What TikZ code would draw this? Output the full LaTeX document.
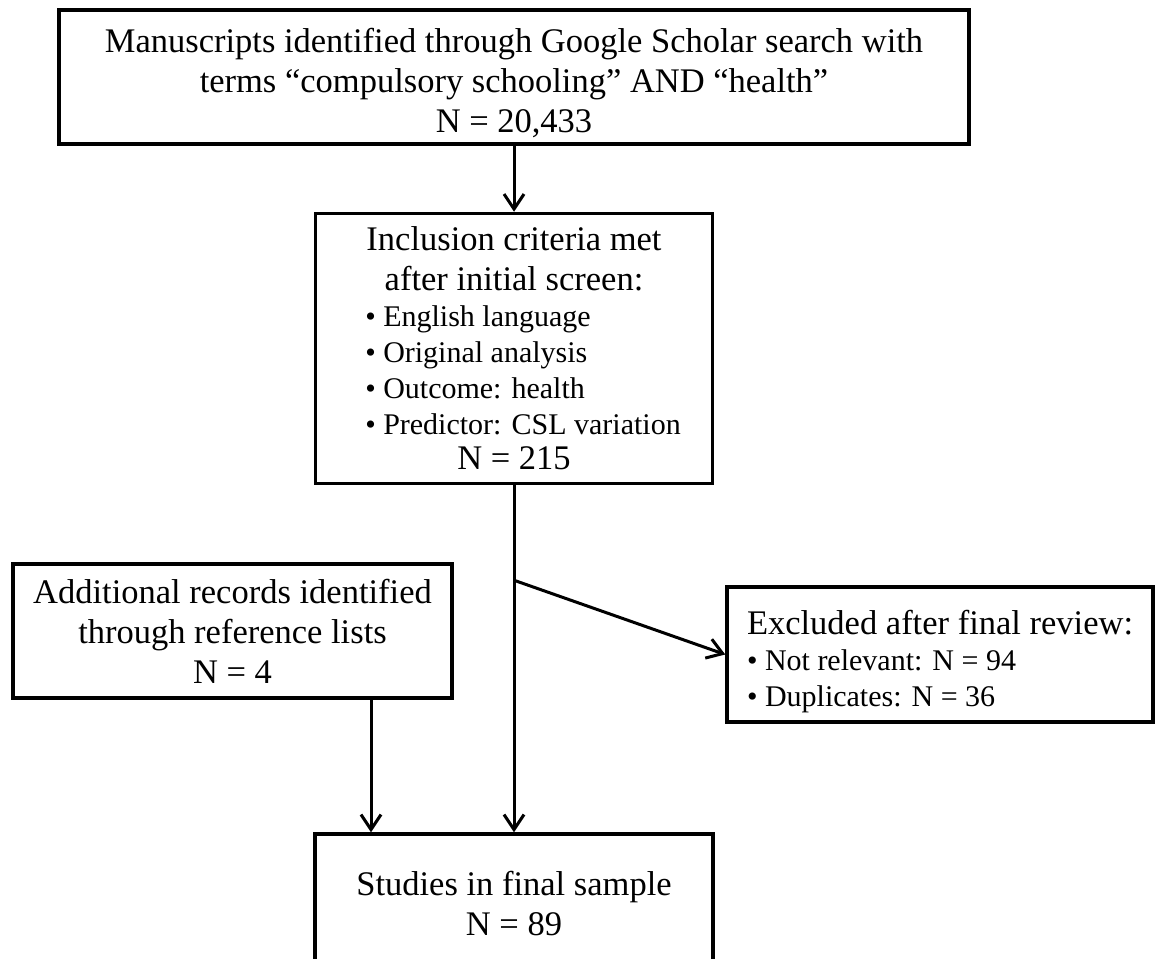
\documentclass[tikz,border=0pt]{standalone}
\usepackage{fontspec}
\setmainfont{Liberation Serif}
\usetikzlibrary{arrows.meta,positioning}

\newcommand{\bulletrows}[1]{{\fontsize{30}{36}\selectfont\begin{tabular}[t]{@{}l@{}}#1\end{tabular}}}

\begin{document}
\begin{tikzpicture}[x=1pt, y=-1pt, node distance=66pt]
  \tikzstyle{box}=[draw, line width=3.5pt, fill=white, align=center, inner sep=0pt, font=\fontsize{34.5}{40}\selectfont]
  \tikzstyle{arrow}=[-{Straight Barb[length=15pt, width=20pt]}, line width=3pt]

  \useasboundingbox (0,0) rectangle (1155,958);
  \clip (0,0) rectangle (1155,958);

  \node[box, minimum width=910pt, minimum height=134pt] (search) at (514,77) {\rule{0pt}{36pt}Manuscripts identified through Google Scholar search with\\terms “compulsory schooling” AND “health”\\N = 20,433};
  \node[box, minimum width=397pt, minimum height=270pt, below=66pt of search] (inclusion) {Inclusion criteria met\\after initial screen:\\[-4pt]\hspace*{18pt}\bulletrows{• English language\\• Original analysis\\• Outcome: health\\• Predictor: CSL variation}\\N = 215};
  \node[box, minimum width=439pt, minimum height=134pt] (additional) at (232.5,631) {Additional records identified\\through reference lists\\N = 4};
  \node[box, minimum width=426pt, minimum height=135pt, align=left] (excluded) at (940,654.5) {\rule{0pt}{42pt}Excluded after final review:\\[-4pt]\bulletrows{• Not relevant: N = 94\\• Duplicates: N = 36}};
  \node[box, minimum width=398pt, minimum height=139pt, below=347pt of inclusion] (final) {Studies in final sample\\N = 89};

  \path (inclusion.south) ++(0,95) coordinate (split);
  \coordinate (addlx) at (371,0);

  \draw[arrow] (search) -- (inclusion);
  \draw[arrow] (inclusion) -- (final);
  \draw[arrow] (split) -- (excluded.west);
  \draw[arrow] (additional.south -| addlx) -- (final.north -| addlx);
\end{tikzpicture}
\end{document}
